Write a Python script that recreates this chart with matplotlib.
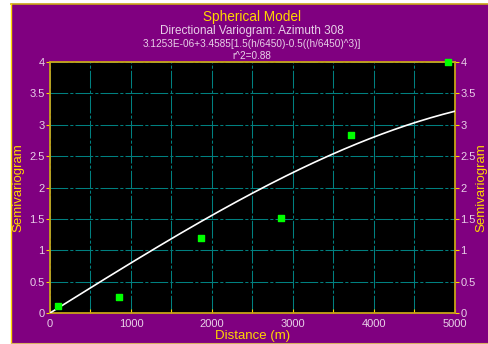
import numpy as np
import matplotlib.pyplot as plt
from matplotlib.patches import Rectangle
from matplotlib.lines import Line2D

plt.rcParams['font.family'] = ['Liberation Sans', 'DejaVu Sans']

dist = [100, 855, 1870, 2850, 3720, 4910]
semivar = [0.11, 0.26, 1.19, 1.52, 2.83, 4.0]

# fitted spherical model (from the title)
nugget = 3.1253e-06
sill = 3.4585
rng = 6450.0

h = np.linspace(0, 5000, 200)
r = h / rng
model = nugget + sill * (1.5 * r - 0.5 * r ** 3)

purple = '#800080'
gold = '#C8A418'
yellow = '#FFD700'
lav = '#E8D0E8'
teal = '#008080'

fig = plt.figure(figsize=(4.89, 3.44), dpi=100)
fig.patch.set_facecolor('white')

# purple panel with gold rim on top/left
W, H = 489.0, 344.0
fig.patches.append(Rectangle((11 / W, 1 / H), 1, (343 - 4) / H, transform=fig.transFigure,
                             facecolor=purple, edgecolor='none', zorder=-5))
fig.lines.append(Line2D([11 / W, 1], [1 - 4 / H, 1 - 4 / H], transform=fig.transFigure,
                        color=gold, lw=1.2, zorder=-4))
fig.lines.append(Line2D([11.5 / W, 11.5 / W], [1 / H, 1 - 4 / H], transform=fig.transFigure,
                        color=yellow, lw=1, zorder=-4))
fig.lines.append(Line2D([11 / W, 1], [1.2 / H, 1.2 / H], transform=fig.transFigure,
                        color='#D8B060', lw=0.8, zorder=-4))

ax = fig.add_axes([50 / W, 1 - 313 / H, (455 - 50) / W, (313 - 62) / H])
ax.set_facecolor('black')

ax.plot(h, model, color='white', lw=1.2, zorder=3)
ax.scatter(dist, semivar, marker='s', s=22, color='#00FF00', zorder=4, clip_on=False)

ax.set_xlim(0, 5000)
ax.set_ylim(0, 4)
xt = np.arange(0, 5001, 500)
ax.set_xticks(xt)
ax.set_xticklabels([str(int(v)) if v % 1000 == 0 else '' for v in xt])
yt = np.arange(0, 4.01, 0.5)
ax.set_yticks(yt)
ax.set_yticklabels(['%g' % v for v in yt])
ax.grid(True, color=teal, lw=0.75, linestyle=(0, (17, 2, 3, 2)))
ax.set_axisbelow(True)

for s in ax.spines.values():
    s.set_color(gold)
    s.set_linewidth(1.3)

ax.tick_params(axis='x', direction='in', length=3, color=yellow, labelcolor=lav,
               labelsize=8, pad=4)
ax.tick_params(axis='y', direction='out', length=3, color=yellow, labelcolor=lav,
               labelsize=8, pad=1, right=True, labelright=True)

ax.set_xlabel('Distance (m)', color=yellow, fontsize=9.5, labelpad=1)
ax.set_ylabel('Semivariogram', color=yellow, fontsize=9.5, labelpad=3)
fig.text(481 / W, ax.get_position().y0 + ax.get_position().height / 2, 'Semivariogram',
         color=yellow, fontsize=9.5, rotation=90, ha='center', va='center')

cx = 252 / W
fig.text(cx, 1 - 17 / H, 'Spherical Model', color=yellow, fontsize=9.8, ha='center', va='center')
fig.text(cx, 1 - 31 / H, 'Directional Variogram: Azimuth 308', color=lav, fontsize=8.5,
         ha='center', va='center')
fig.text(cx, 1 - 44 / H, '3.1253E-06+3.4585[1.5(h/6450)-0.5((h/6450)^3)]', color=lav,
         fontsize=7.2, ha='center', va='center')
fig.text(cx, 1 - 56 / H, 'r^2=0.88', color=lav, fontsize=7.2, ha='center', va='center')

fig.savefig('out.png', dpi=100, facecolor=fig.get_facecolor())
